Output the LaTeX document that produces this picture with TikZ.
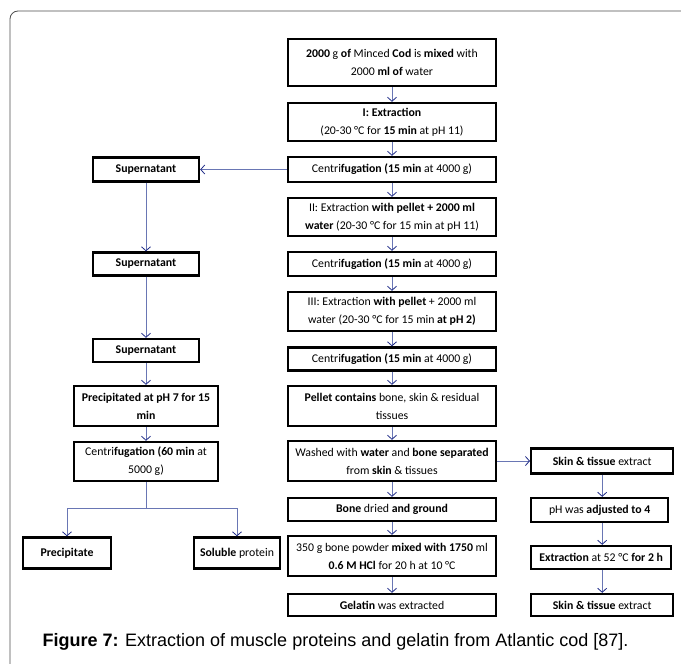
\documentclass[tikz,border=0pt]{standalone}
\usepackage{fontspec}
\setmainfont{Carlito}
\newfontfamily\capfont{Liberation Sans}
\usetikzlibrary{arrows.meta}
\definecolor{flowblue}{RGB}{105,118,180}
\definecolor{tipblue}{RGB}{30,42,135}
\newcommand{\boxfont}{\fontsize{11.8}{18}\selectfont}

\begin{document}
\begin{tikzpicture}[x=1pt,y=-1pt,
  box/.style={draw,line width=2.4pt,align=center,inner sep=1pt,font=\boxfont},
  flow/.style={draw=flowblue,line width=0.8pt,-{Straight Barb[length=4pt,width=9pt,color=tipblue]}}]
\useasboundingbox (0,0) rectangle (681,664);
\draw [gray!60!black,line width=0.8pt,rounded corners=8pt] (681,11) -- (10,11) -- (10,664);

\node [box,minimum width=208,minimum height=47] (cod) at (392,62.5) {\textbf{2000} g \textbf{of} Minced \textbf{Cod} is \textbf{mixed} with\\2000 \textbf{ml of} water};
\node [box,minimum width=208,minimum height=38] (ext1) at (392,122) {\textbf{I: Extraction}\\(20-30 °C for \textbf{15 min} at pH 11)};
\node [box,minimum width=208,minimum height=25] (cen1) at (392,169.5) {Centri\textbf{fugation (15 min} at 4000 g)};
\node [box,minimum width=208,minimum height=38] (ext2) at (392,217) {II: Extraction \textbf{with pellet + 2000 ml}\\\textbf{water} (20-30 °C for 15 min at pH 11)};
\node [box,minimum width=208,minimum height=24] (cen2) at (392,264) {Centri\textbf{fugation (15 min} at 4000 g)};
\node [box,minimum width=208,minimum height=39] (ext3) at (392,311.5) {III: Extraction \textbf{with pellet} + 2000 ml\\water (20-30 °C for 15 min \textbf{at pH 2)}};
\node [box,minimum width=208,minimum height=23] (cen3) at (392,359) {Centri\textbf{fugation (15 min} at 4000 g)};
\node [box,minimum width=208,minimum height=40] (pellet) at (392,406) {\textbf{Pellet contains} bone, skin \& residual\\tissues};
\node [box,minimum width=208,minimum height=40] (wash) at (392,461) {Washed with \textbf{water} and \textbf{bone separated}\\from \textbf{skin} \& tissues};
\node [box,minimum width=208,minimum height=23] (bone) at (392,509.5) {\textbf{Bone} dried \textbf{and ground}};
\node [box,minimum width=208,minimum height=40] (powder) at (392,556) {350 g bone powder \textbf{mixed with 1750} ml\\\textbf{0.6 M HCl} for 20 h at 10 °C};
\node [box,minimum width=208,minimum height=22] (gel) at (392,605) {\textbf{Gelatin} was extracted};

\node [box,minimum width=106,minimum height=24] (sup1) at (146,169.5) {\textbf{Supernatant}};
\node [box,minimum width=106,minimum height=23] (sup2) at (146,264) {\textbf{Supernatant}};
\node [box,minimum width=106,minimum height=23] (sup3) at (146,350.5) {\textbf{Supernatant}};
\node [box,minimum width=144,minimum height=40] (prec) at (146,406) {\textbf{Precipitated at pH 7 for 15}\\\textbf{min}};
\node [box,minimum width=144,minimum height=39] (cen4) at (146,461.5) {Centri\textbf{fugation (60 min} at\\5000 g)};
\node [box,minimum width=88,minimum height=31] (precip) at (67,553) {\textbf{Precipitate}};
\node [box,minimum width=86,minimum height=31] (soluble) at (237,553) {\textbf{Soluble} protein};

\node [box,anchor=west,minimum width=142,minimum height=25] (skin1) at (530,461) {\textbf{Skin \& tissue} extract};
\node [box,anchor=west,minimum width=137,minimum height=24] (ph) at (530,510) {pH was \textbf{adjusted to 4}};
\node [box,anchor=west,minimum width=140,minimum height=23] (ext4) at (530,557.5) {\textbf{Extraction} at 52 °C \textbf{for 2 h}};
\node [box,anchor=west,minimum width=142,minimum height=22] (skin2) at (530,605) {\textbf{Skin \& tissue} extract};

\draw [flow] (cod) -- (ext1);
\draw [flow] (ext1) -- (cen1);
\draw [flow] (cen1) -- (ext2);
\draw [flow] (ext2) -- (cen2);
\draw [flow] (cen2) -- (ext3);
\draw [flow] (ext3) -- (cen3);
\draw [flow] (cen3) -- (pellet);
\draw [flow] (pellet) -- (wash);
\draw [flow] (wash) -- (bone);
\draw [flow] (bone) -- (powder);
\draw [flow] (powder) -- (gel);

\draw [flow] (cen1) -- (sup1);
\draw [flow] (sup1) -- (sup2);
\draw [flow] (sup2) -- (sup3);
\draw [flow] (sup3) -- (prec);
\draw [flow] (prec) -- (cen4);
\draw [draw=flowblue,line width=0.8pt] (cen4.south) -- ++(0,26) coordinate (fork);
\draw [flow] (fork) -| (precip);
\draw [flow] (fork) -| (soluble);

\draw [flow] (wash) -- (skin1);
\draw [flow] (skin1.south) -- (skin1.south |- ph.north);
\draw [flow] (skin1.south |- ph.south) -- (skin1.south |- ext4.north);
\draw [flow] (skin1.south |- ext4.south) -- (skin1.south |- skin2.north);

\node [font=\capfont\fontsize{18}{21}\selectfont] (caption) at (335.5,642) {\textbf{Figure 7:} Extraction of muscle proteins and gelatin from Atlantic cod [87].};
\end{tikzpicture}
\end{document}
